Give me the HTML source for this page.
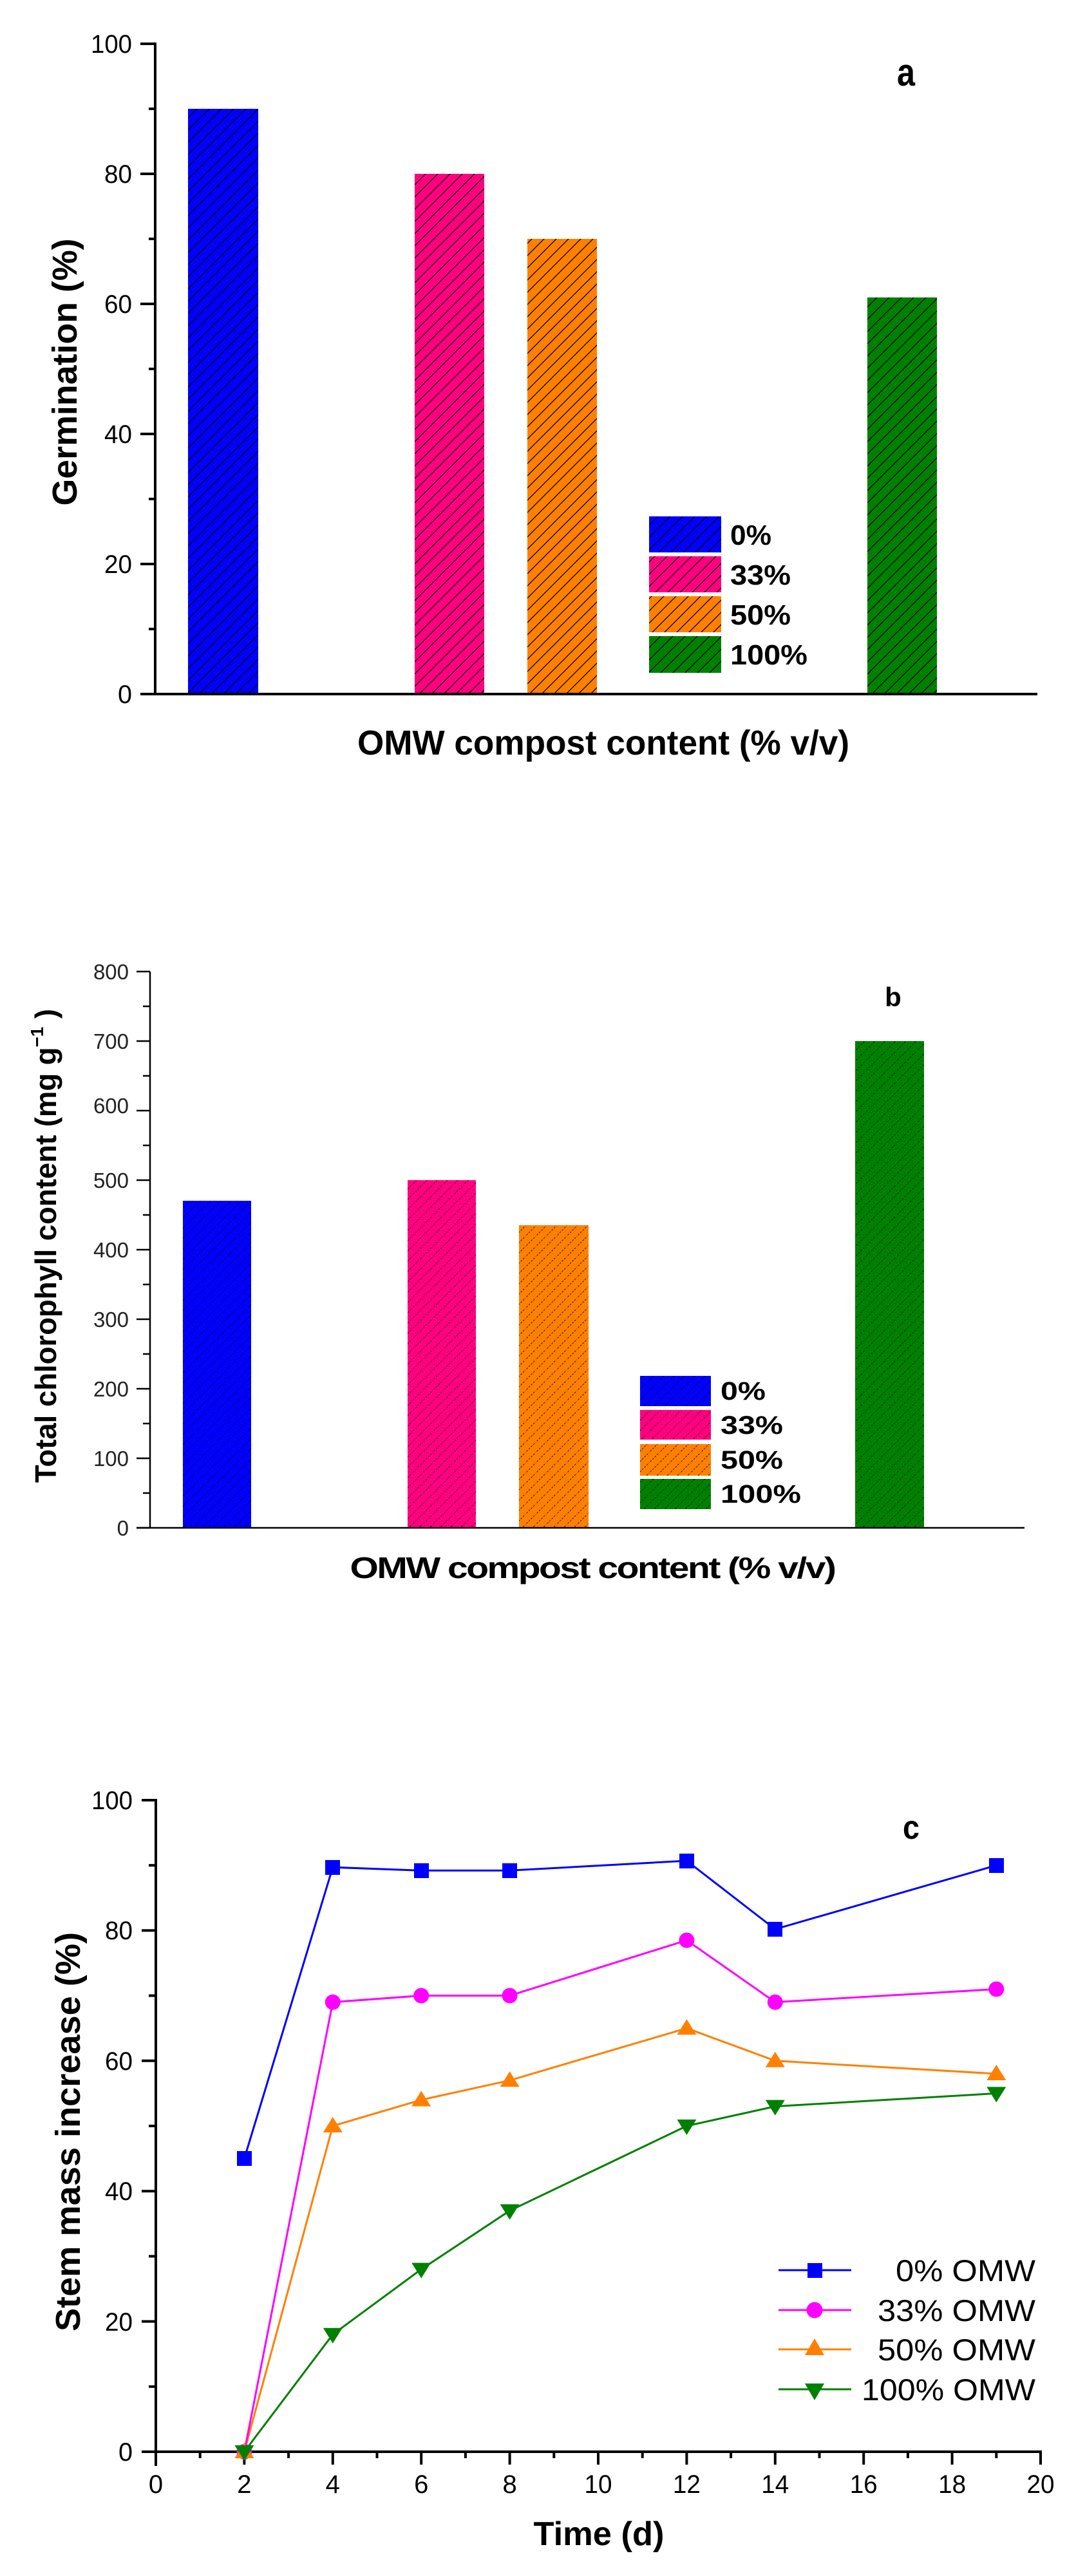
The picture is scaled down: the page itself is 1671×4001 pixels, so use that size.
<!DOCTYPE html>
<html><head><meta charset="utf-8"><style>html,body{margin:0;padding:0;background:#fff}svg{display:block}</style></head>
<body>
<svg xmlns="http://www.w3.org/2000/svg" width="1671" height="4001" viewBox="0 0 1671 4001" font-family="Liberation Sans, Arial, sans-serif">
<defs>
<pattern id="h1" patternUnits="userSpaceOnUse" width="19" height="19">
<path d="M-2,21 L21,-2 M-2,2 L2,-2 M17,21 L21,17" stroke="#000" stroke-width="1.3"/>
</pattern>
<pattern id="h2" patternUnits="userSpaceOnUse" width="16" height="16">
<path d="M-2,18 L18,-2 M-2,2 L2,-2 M14,18 L18,14" stroke="#000" stroke-width="1" stroke-dasharray="3,2" opacity="0.8"/>
</pattern>
</defs>
<rect width="1671" height="4001" fill="#fff"/>

<!-- ================= Chart a ================= -->
<g>
<rect x="292" y="169" width="109" height="909" fill="#0000ff"/><rect x="292" y="169" width="109" height="909" fill="url(#h1)"/>
<rect x="644" y="270" width="108" height="808" fill="#ff0080"/><rect x="644" y="270" width="108" height="808" fill="url(#h1)"/>
<rect x="819" y="371" width="108" height="707" fill="#ff8000"/><rect x="819" y="371" width="108" height="707" fill="url(#h1)"/>
<rect x="1347" y="462" width="108" height="616" fill="#008000"/><rect x="1347" y="462" width="108" height="616" fill="url(#h1)"/>
<!-- legend -->
<rect x="1008" y="802" width="112" height="56" fill="#0000ff"/><rect x="1008" y="802" width="112" height="56" fill="url(#h1)"/>
<rect x="1008" y="864" width="112" height="56" fill="#ff0080"/><rect x="1008" y="864" width="112" height="56" fill="url(#h1)"/>
<rect x="1008" y="926" width="112" height="56" fill="#ff8000"/><rect x="1008" y="926" width="112" height="56" fill="url(#h1)"/>
<rect x="1008" y="988" width="112" height="57" fill="#008000"/><rect x="1008" y="988" width="112" height="57" fill="url(#h1)"/>
<g font-weight="bold" font-size="44" fill="#000">
<text x="1134" y="846" textLength="64" lengthAdjust="spacingAndGlyphs">0%</text>
<text x="1134" y="908" textLength="94" lengthAdjust="spacingAndGlyphs">33%</text>
<text x="1134" y="970" textLength="94" lengthAdjust="spacingAndGlyphs">50%</text>
<text x="1134" y="1032" textLength="120" lengthAdjust="spacingAndGlyphs">100%</text>
</g>
<!-- axes -->
<line x1="241" y1="66" x2="241" y2="1080" stroke="#000" stroke-width="4"/>
<line x1="218" y1="1078" x2="1611" y2="1078" stroke="#000" stroke-width="4"/>
<g stroke="#000" stroke-width="4">
<line x1="218" y1="1078" x2="241" y2="1078"/><line x1="218" y1="876" x2="241" y2="876"/><line x1="218" y1="674" x2="241" y2="674"/>
<line x1="218" y1="472" x2="241" y2="472"/><line x1="218" y1="270" x2="241" y2="270"/><line x1="218" y1="68" x2="241" y2="68"/>
<line x1="231" y1="977" x2="241" y2="977"/><line x1="231" y1="775" x2="241" y2="775"/><line x1="231" y1="573" x2="241" y2="573"/>
<line x1="231" y1="371" x2="241" y2="371"/><line x1="231" y1="169" x2="241" y2="169"/>
</g>
<g font-size="40" fill="#000" text-anchor="end">
<text x="205" y="1092" textLength="22" lengthAdjust="spacingAndGlyphs">0</text>
<text x="205" y="890" textLength="43" lengthAdjust="spacingAndGlyphs">20</text>
<text x="205" y="688" textLength="43" lengthAdjust="spacingAndGlyphs">40</text>
<text x="205" y="486" textLength="43" lengthAdjust="spacingAndGlyphs">60</text>
<text x="205" y="284" textLength="43" lengthAdjust="spacingAndGlyphs">80</text>
<text x="205" y="82" textLength="64" lengthAdjust="spacingAndGlyphs">100</text>
</g>
<text x="1407" y="133" font-size="60" font-weight="bold" text-anchor="middle" textLength="28" lengthAdjust="spacingAndGlyphs">a</text>
<text x="937" y="1172" font-size="54" font-weight="bold" text-anchor="middle" textLength="764" lengthAdjust="spacingAndGlyphs">OMW compost content (% v/v)</text>
<text transform="translate(119,578) rotate(-90)" font-size="54" font-weight="bold" text-anchor="middle" textLength="415" lengthAdjust="spacingAndGlyphs">Germination (%)</text>
</g>

<!-- ================= Chart b ================= -->
<g>
<rect x="284" y="1865" width="106" height="508" fill="#0000ff"/><rect x="284" y="1865" width="106" height="508" fill="url(#h2)"/>
<rect x="633" y="1833" width="106" height="540" fill="#ff0080"/><rect x="633" y="1833" width="106" height="540" fill="url(#h2)"/>
<rect x="806" y="1903" width="108" height="470" fill="#ff8000"/><rect x="806" y="1903" width="108" height="470" fill="url(#h2)"/>
<rect x="1328" y="1617" width="107" height="756" fill="#008000"/><rect x="1328" y="1617" width="107" height="756" fill="url(#h2)"/>
<rect x="994" y="2137" width="110" height="47" fill="#0000ff"/><rect x="994" y="2137" width="110" height="47" fill="url(#h2)"/>
<rect x="994" y="2190" width="110" height="46" fill="#ff0080"/><rect x="994" y="2190" width="110" height="46" fill="url(#h2)"/>
<rect x="994" y="2243" width="110" height="49" fill="#ff8000"/><rect x="994" y="2243" width="110" height="49" fill="url(#h2)"/>
<rect x="994" y="2297" width="110" height="47" fill="#008000"/><rect x="994" y="2297" width="110" height="47" fill="url(#h2)"/>
<g font-weight="bold" font-size="40" fill="#000">
<text x="1119" y="2174" textLength="70" lengthAdjust="spacingAndGlyphs">0%</text>
<text x="1119" y="2227" textLength="97" lengthAdjust="spacingAndGlyphs">33%</text>
<text x="1119" y="2281" textLength="97" lengthAdjust="spacingAndGlyphs">50%</text>
<text x="1119" y="2334" textLength="125" lengthAdjust="spacingAndGlyphs">100%</text>
</g>
<line x1="233" y1="1509" x2="233" y2="2374" stroke="#000" stroke-width="2.5"/>
<line x1="212" y1="2373" x2="1591" y2="2373" stroke="#000" stroke-width="2.5"/>
<g stroke="#000" stroke-width="2.5">
<line x1="212" y1="2373" x2="233" y2="2373"/><line x1="212" y1="2265" x2="233" y2="2265"/><line x1="212" y1="2157" x2="233" y2="2157"/>
<line x1="212" y1="2049" x2="233" y2="2049"/><line x1="212" y1="1941" x2="233" y2="1941"/><line x1="212" y1="1833" x2="233" y2="1833"/>
<line x1="212" y1="1725" x2="233" y2="1725"/><line x1="212" y1="1617" x2="233" y2="1617"/><line x1="212" y1="1509" x2="233" y2="1509"/>
<line x1="222" y1="2319" x2="233" y2="2319"/><line x1="222" y1="2211" x2="233" y2="2211"/><line x1="222" y1="2103" x2="233" y2="2103"/>
<line x1="222" y1="1995" x2="233" y2="1995"/><line x1="222" y1="1887" x2="233" y2="1887"/><line x1="222" y1="1779" x2="233" y2="1779"/>
<line x1="222" y1="1671" x2="233" y2="1671"/><line x1="222" y1="1563" x2="233" y2="1563"/>
</g>
<g font-size="33" fill="#222" text-anchor="end">
<text x="200" y="2385">0</text><text x="200" y="2277">100</text><text x="200" y="2169">200</text>
<text x="200" y="2061">300</text><text x="200" y="1953">400</text><text x="200" y="1845">500</text>
<text x="200" y="1729">600</text><text x="200" y="1629">700</text><text x="200" y="1521">800</text>
</g>
<text x="1387" y="1563" font-size="42" font-weight="bold" text-anchor="middle">b</text>
<text x="920" y="2451" font-size="46" font-weight="bold" text-anchor="middle" textLength="753" lengthAdjust="spacingAndGlyphs" letter-spacing="-2">OMW compost content (% v/v)</text>
<text transform="translate(87,1935) rotate(-90)" font-size="46" font-weight="bold" text-anchor="middle" textLength="736" lengthAdjust="spacingAndGlyphs">Total chlorophyll content (mg g<tspan font-size="28" dy="-20">−1</tspan><tspan dy="20"> )</tspan></text>
</g>

<!-- ================= Chart c ================= -->
<g>
<line x1="242" y1="2794" x2="242" y2="3830" stroke="#000" stroke-width="4"/>
<line x1="220" y1="3808" x2="1618" y2="3808" stroke="#000" stroke-width="4"/>
<g stroke="#000" stroke-width="4">
<line x1="220" y1="3808" x2="242" y2="3808"/><line x1="220" y1="3605.6" x2="242" y2="3605.6"/><line x1="220" y1="3403.2" x2="242" y2="3403.2"/>
<line x1="220" y1="3200.8" x2="242" y2="3200.8"/><line x1="220" y1="2998.4" x2="242" y2="2998.4"/><line x1="220" y1="2796" x2="242" y2="2796"/>
<line x1="231" y1="3706.8" x2="242" y2="3706.8"/><line x1="231" y1="3504.4" x2="242" y2="3504.4"/><line x1="231" y1="3302" x2="242" y2="3302"/>
<line x1="231" y1="3099.6" x2="242" y2="3099.6"/><line x1="231" y1="2897.2" x2="242" y2="2897.2"/>
<line x1="242" y1="3808" x2="242" y2="3828"/><line x1="379.4" y1="3808" x2="379.4" y2="3828"/><line x1="516.8" y1="3808" x2="516.8" y2="3828"/>
<line x1="654.2" y1="3808" x2="654.2" y2="3828"/><line x1="791.6" y1="3808" x2="791.6" y2="3828"/><line x1="929" y1="3808" x2="929" y2="3828"/>
<line x1="1066.4" y1="3808" x2="1066.4" y2="3828"/><line x1="1203.8" y1="3808" x2="1203.8" y2="3828"/><line x1="1341.2" y1="3808" x2="1341.2" y2="3828"/>
<line x1="1478.6" y1="3808" x2="1478.6" y2="3828"/><line x1="1616" y1="3808" x2="1616" y2="3828"/>
<line x1="310.7" y1="3808" x2="310.7" y2="3818"/><line x1="448.1" y1="3808" x2="448.1" y2="3818"/><line x1="585.5" y1="3808" x2="585.5" y2="3818"/>
<line x1="722.9" y1="3808" x2="722.9" y2="3818"/><line x1="860.3" y1="3808" x2="860.3" y2="3818"/><line x1="997.7" y1="3808" x2="997.7" y2="3818"/>
<line x1="1135.1" y1="3808" x2="1135.1" y2="3818"/><line x1="1272.5" y1="3808" x2="1272.5" y2="3818"/><line x1="1409.9" y1="3808" x2="1409.9" y2="3818"/>
<line x1="1547.3" y1="3808" x2="1547.3" y2="3818"/>
</g>
<g font-size="40" fill="#000" text-anchor="end">
<text x="206" y="3822" textLength="22" lengthAdjust="spacingAndGlyphs">0</text>
<text x="206" y="3620" textLength="43" lengthAdjust="spacingAndGlyphs">20</text>
<text x="206" y="3417" textLength="43" lengthAdjust="spacingAndGlyphs">40</text>
<text x="206" y="3215" textLength="43" lengthAdjust="spacingAndGlyphs">60</text>
<text x="206" y="3012" textLength="43" lengthAdjust="spacingAndGlyphs">80</text>
<text x="206" y="2810" textLength="64" lengthAdjust="spacingAndGlyphs">100</text>
</g>
<g font-size="40" fill="#000" text-anchor="middle">
<text x="242" y="3872">0</text><text x="379.4" y="3872">2</text><text x="516.8" y="3872">4</text>
<text x="654.2" y="3872">6</text><text x="791.6" y="3872">8</text><text x="929" y="3872" textLength="43" lengthAdjust="spacingAndGlyphs">10</text>
<text x="1066.4" y="3872" textLength="43" lengthAdjust="spacingAndGlyphs">12</text><text x="1203.8" y="3872" textLength="43" lengthAdjust="spacingAndGlyphs">14</text>
<text x="1341.2" y="3872" textLength="43" lengthAdjust="spacingAndGlyphs">16</text><text x="1478.6" y="3872" textLength="43" lengthAdjust="spacingAndGlyphs">18</text>
<text x="1616" y="3872" textLength="43" lengthAdjust="spacingAndGlyphs">20</text>
</g>
<!-- series -->
<polyline fill="none" stroke="#008000" stroke-width="3" points="379.4,3808 516.8,3625.8 654.2,3524.6 791.6,3433.6 1066.4,3302 1203.8,3271.6 1547.3,3251.4"/>
<polyline fill="none" stroke="#ff8000" stroke-width="3" points="379.4,3808 516.8,3302 654.2,3261.5 791.6,3231.2 1066.4,3150.2 1203.8,3200.8 1547.3,3221"/>
<polyline fill="none" stroke="#ff00ff" stroke-width="3" points="379.4,3808 516.8,3109.7 654.2,3099.6 791.6,3099.6 1066.4,3013.6 1203.8,3109.7 1547.3,3089.5"/>
<polyline fill="none" stroke="#0000ff" stroke-width="3" points="379.4,3352.6 516.8,2900.2 654.2,2905.3 791.6,2905.3 1066.4,2890.1 1203.8,2996.4 1547.3,2897.2"/>
<g fill="#0000ff">
<rect x="368" y="3341" width="23" height="23"/><rect x="505" y="2889" width="23" height="23"/><rect x="643" y="2894" width="23" height="23"/>
<rect x="780" y="2894" width="23" height="23"/><rect x="1055" y="2879" width="23" height="23"/><rect x="1192" y="2985" width="23" height="23"/>
<rect x="1536" y="2886" width="23" height="23"/>
</g>
<g fill="#ff00ff">
<circle cx="379.4" cy="3808" r="12"/><circle cx="516.8" cy="3109.7" r="12"/><circle cx="654.2" cy="3099.6" r="12"/>
<circle cx="791.6" cy="3099.6" r="12"/><circle cx="1066.4" cy="3013.6" r="12"/><circle cx="1203.8" cy="3109.7" r="12"/>
<circle cx="1547.3" cy="3089.5" r="12"/>
</g>
<g fill="#ff8000">
<path d="M379.4,3794 l-15,24 h30z"/><path d="M516.8,3288 l-15,24 h30z"/><path d="M654.2,3247.5 l-15,24 h30z"/>
<path d="M791.6,3217.2 l-15,24 h30z"/><path d="M1066.4,3136.2 l-15,24 h30z"/><path d="M1203.8,3186.8 l-15,24 h30z"/>
<path d="M1547.3,3207 l-15,24 h30z"/>
</g>
<g fill="#008000">
<path d="M379.4,3822 l-15,-24 h30z"/><path d="M516.8,3639.8 l-15,-24 h30z"/><path d="M654.2,3538.6 l-15,-24 h30z"/>
<path d="M791.6,3447.6 l-15,-24 h30z"/><path d="M1066.4,3316 l-15,-24 h30z"/><path d="M1203.8,3285.6 l-15,-24 h30z"/>
<path d="M1547.3,3265.4 l-15,-24 h30z"/>
</g>
<!-- legend -->
<line x1="1209" y1="3526" x2="1322" y2="3526" stroke="#0000ff" stroke-width="3"/><rect x="1254" y="3515" width="23" height="23" fill="#0000ff"/>
<line x1="1209" y1="3588" x2="1322" y2="3588" stroke="#ff00ff" stroke-width="3"/><circle cx="1265" cy="3588" r="12.5" fill="#ff00ff"/>
<line x1="1209" y1="3649" x2="1322" y2="3649" stroke="#ff8000" stroke-width="3"/><path d="M1265,3632 l-15,26 h30z" fill="#ff8000"/>
<line x1="1209" y1="3711" x2="1322" y2="3711" stroke="#008000" stroke-width="3"/><path d="M1265,3728 l-15,-26 h30z" fill="#008000"/>
<g font-size="47" fill="#000" text-anchor="end">
<text x="1608" y="3543" textLength="217" lengthAdjust="spacingAndGlyphs">0% OMW</text>
<text x="1608" y="3605" textLength="245" lengthAdjust="spacingAndGlyphs">33% OMW</text>
<text x="1608" y="3666" textLength="245" lengthAdjust="spacingAndGlyphs">50% OMW</text>
<text x="1608" y="3728" textLength="270" lengthAdjust="spacingAndGlyphs">100% OMW</text>
</g>
<text x="1415" y="2856" font-size="52" font-weight="bold" text-anchor="middle" textLength="26" lengthAdjust="spacingAndGlyphs">c</text>
<text x="930" y="3953" font-size="52" font-weight="bold" text-anchor="middle" textLength="203" lengthAdjust="spacingAndGlyphs">Time (d)</text>
<text transform="translate(124,3311) rotate(-90)" font-size="54" font-weight="bold" text-anchor="middle" textLength="620" lengthAdjust="spacingAndGlyphs">Stem mass increase (%)</text>
</g>
</svg>
</body></html>
